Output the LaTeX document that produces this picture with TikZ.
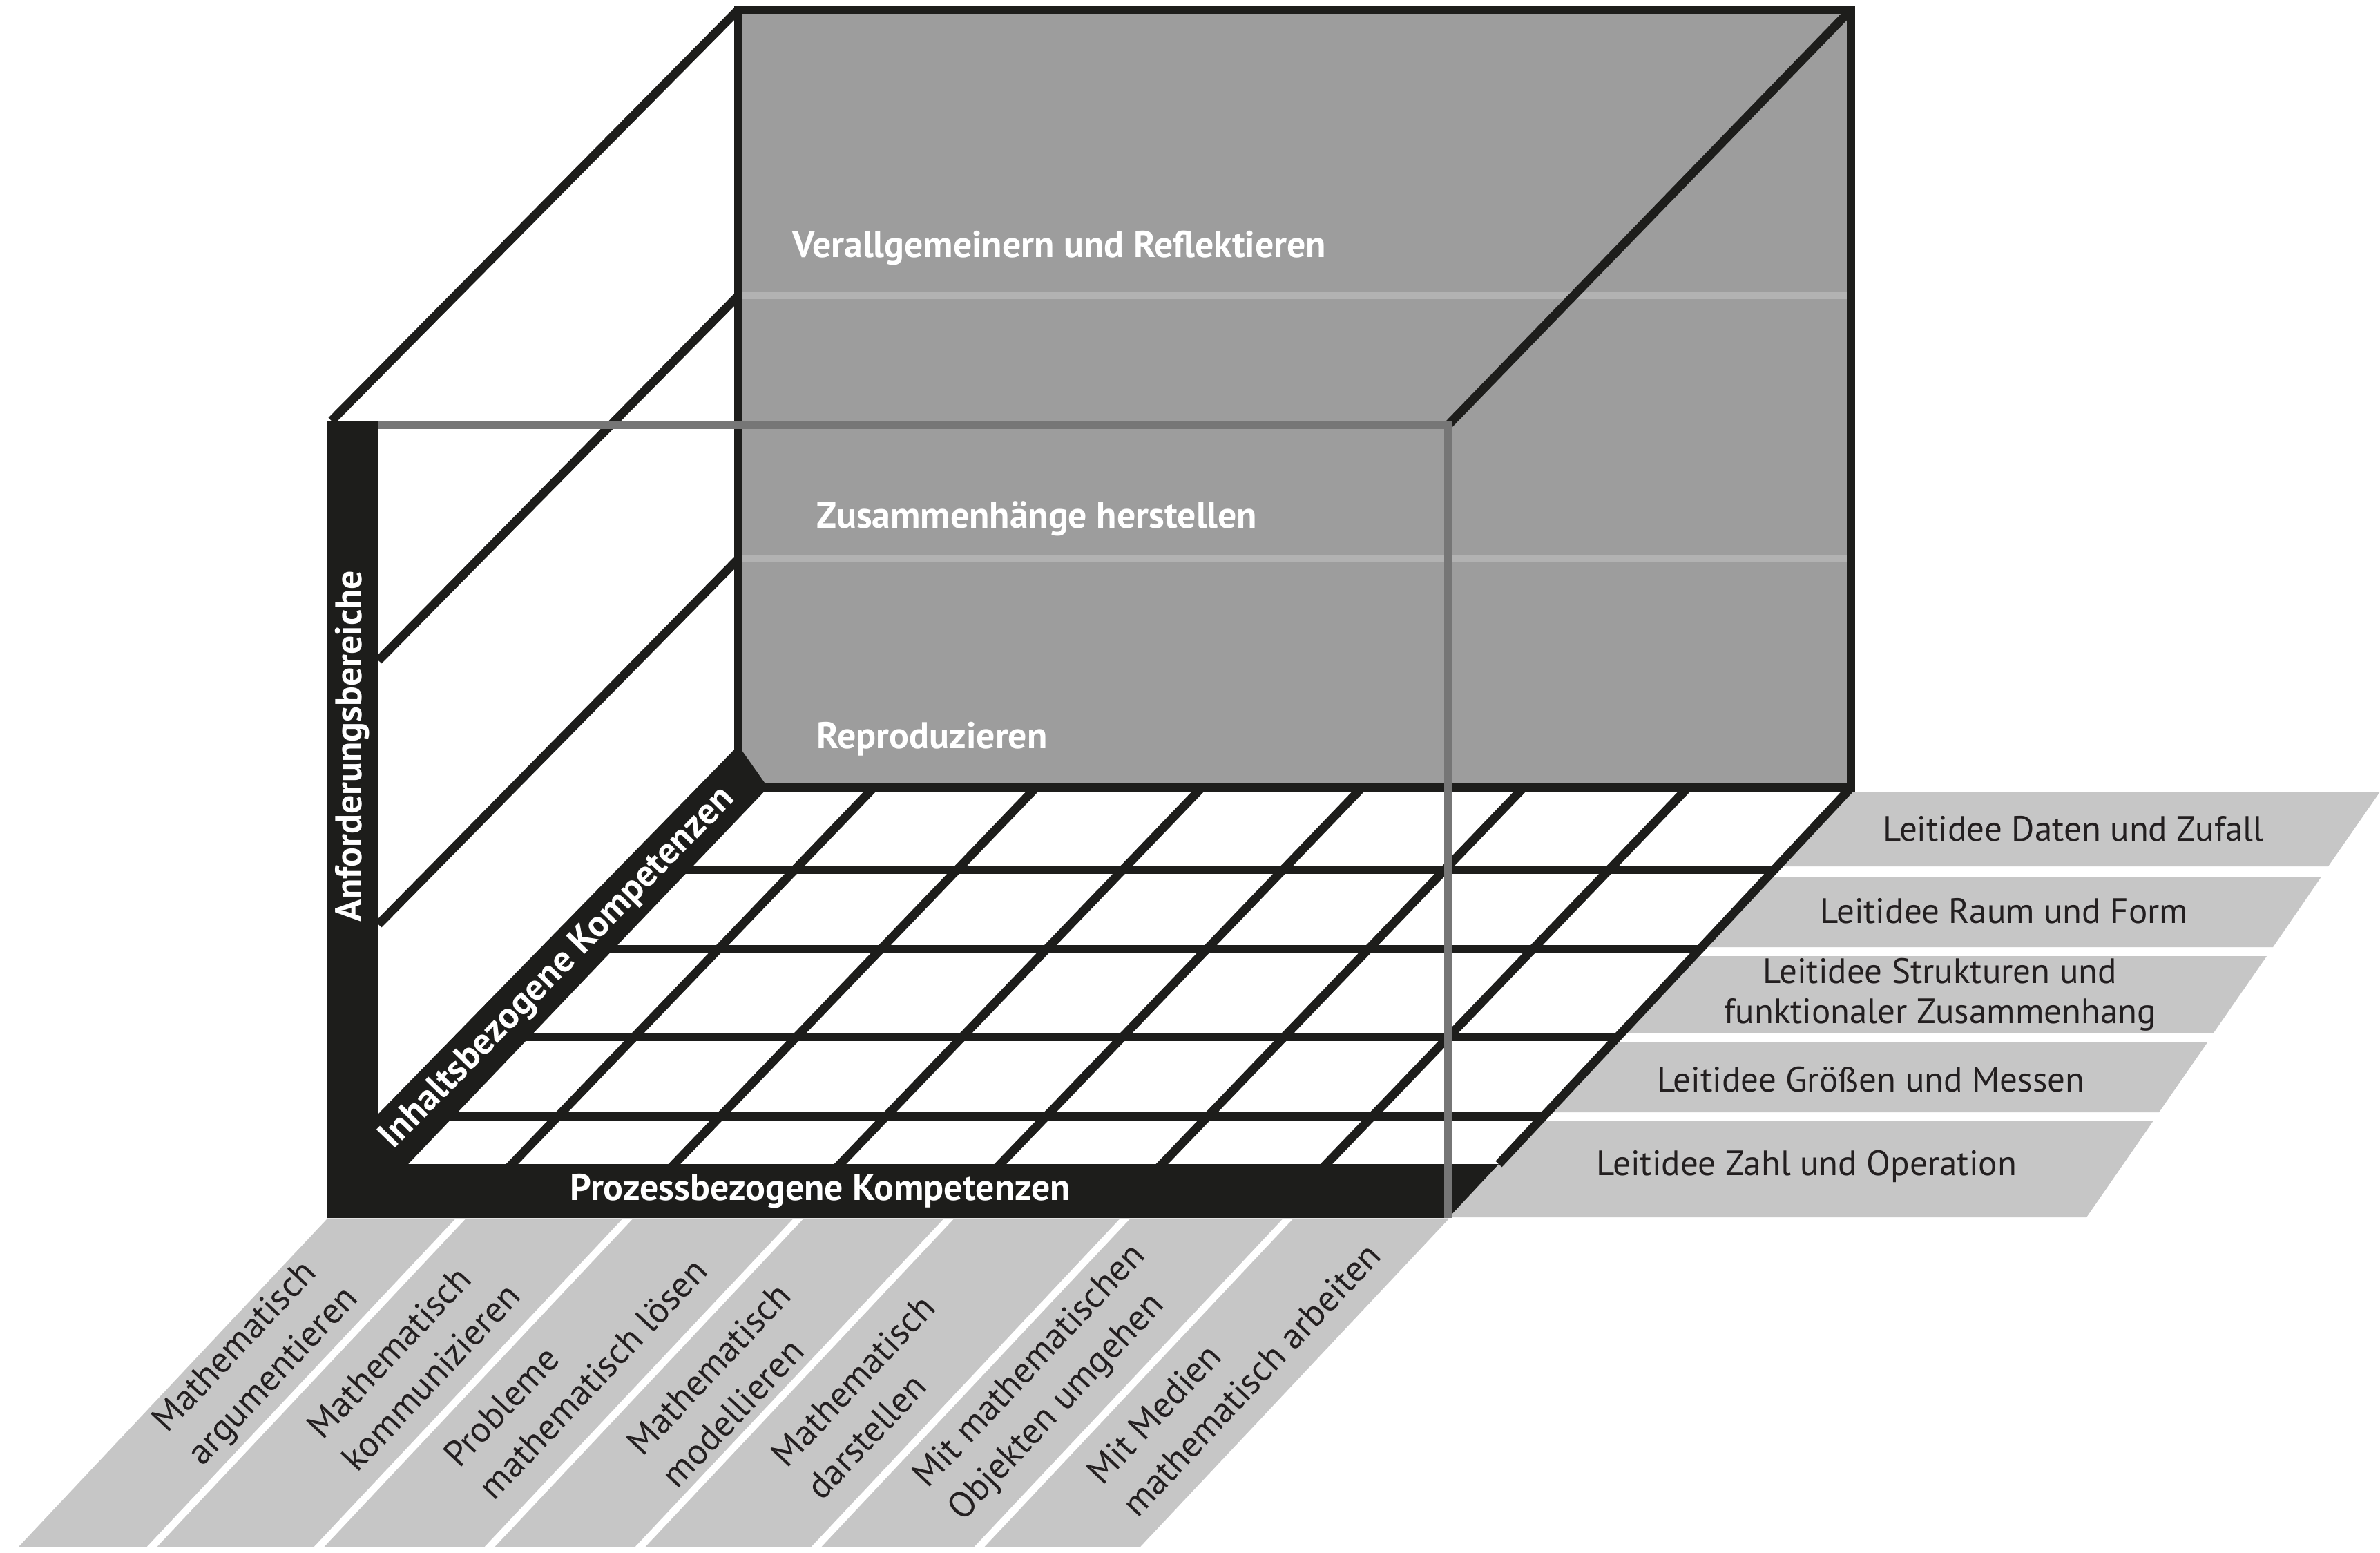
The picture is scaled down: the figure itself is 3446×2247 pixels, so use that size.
\documentclass[tikz,border=0pt]{standalone}
\usepackage{fontspec}
\setmainfont{PT Sans}
\definecolor{inkblack}{HTML}{1D1D1B}
\definecolor{wallgray}{HTML}{9D9D9D}
\definecolor{wallline}{HTML}{B2B2B2}
\definecolor{frontgray}{HTML}{767676}
\definecolor{labelgray}{HTML}{C6C6C6}
\definecolor{labeltext}{HTML}{231F20}
\begin{document}
\begin{tikzpicture}[x=0.01cm,y=-0.01cm,
  blk/.style={draw=inkblack,line width=3.6pt},
  wline/.style={draw=wallline,line width=3.1pt},
  fline/.style={draw=frontgray,line width=3.4pt},
  band/.style={fill=labelgray},
  whitelbl/.style={text=white,font=\bfseries\fontsize{15.3}{18}\selectfont,inner sep=0pt},
  darklbl/.style={text=labeltext,font=\fontsize{14.5}{16.5}\selectfont,inner sep=0pt,align=center},
  botlbl/.style={text=labeltext,font=\fontsize{15}{19.6}\selectfont,inner sep=0pt,align=left,rotate=46.8,anchor=west}]
\useasboundingbox (0,0) rectangle (3446,2247);
\fill[white] (0,0) rectangle (3446,2247);

% back wall
\fill[wallgray] (1069,14) rectangle (2680,1140);
\draw[wline] (1069,428) -- (2680,428);
\draw[wline] (1069,809) -- (2680,809);
\draw[blk,line join=miter] (1069,1140) -- (1069,14) -- (2680,14) -- (2680,1140) -- cycle;

% left wall
\draw[blk] (480,609) -- (1069,14);
\draw[blk] (548,956) -- (1069,428);
\draw[blk] (548,1338) -- (1069,809);

% right top edge
\draw[blk] (2680,14) -- (2097,615);

% right label bands
\fill[band] (2674,1146) -- (3446,1146) -- (3371,1254) -- (2573,1254) -- cycle;
\fill[band] (2559,1269) -- (3361,1269) -- (3291,1371) -- (2463,1371) -- cycle;
\fill[band] (2443,1384) -- (3282,1384) -- (3205,1495) -- (2339,1495) -- cycle;
\fill[band] (2326,1509) -- (3196,1509) -- (3126,1610) -- (2240,1610) -- cycle;
\fill[band] (2229,1622) -- (3118,1622) -- (3021,1762) -- (2098,1762) -- cycle;

% bottom label bands
\fill[band] (473,1765) -- (658.5,1765) -- (212.5,2239) -- (27,2239) -- cycle;
\fill[band] (673.5,1765) -- (900.5,1765) -- (454.5,2239) -- (227.5,2239) -- cycle;
\fill[band] (915.5,1765) -- (1147.5,1765) -- (701.5,2239) -- (469.5,2239) -- cycle;
\fill[band] (1162.5,1765) -- (1365.5,1765) -- (919.5,2239) -- (716.5,2239) -- cycle;
\fill[band] (1380.5,1765) -- (1620.5,1765) -- (1174.5,2239) -- (934.5,2239) -- cycle;
\fill[band] (1635.5,1765) -- (1856.5,1765) -- (1410.5,2239) -- (1189.5,2239) -- cycle;
\fill[band] (1871.5,1765) -- (2097,1765) -- (1651,2239) -- (1425.5,2239) -- cycle;

% floor grid
\draw[blk] (980,1259) -- (2569,1259);
\draw[blk] (870,1374) -- (2461,1374);
\draw[blk] (750,1501) -- (2342,1501);
\draw[blk] (640,1616) -- (2234,1616);
\foreach \xb in {1265,1500,1740,1972,2206,2444}
  \draw[blk] (\xb,1140) -- ({\xb-538},1700);
\draw[blk] (2680,1140) -- (2170,1685);

% black axis bands
\fill[inkblack] (473,609) rectangle (548,1763);
\fill[inkblack] (473,1685) -- (2170,1685) -- (2097,1763) -- (473,1763) -- cycle;
\fill[inkblack] (548,1612) -- (1069,1079) -- (1112,1140) -- (591,1685) -- (548,1685) -- cycle;

% front grey edges
\draw[fline] (548,615) -- (2097,615) -- (2097,1763);

% labels on the back wall
\node[whitelbl,anchor=west] (vr) at (1147,359) {Verallgemeinern und Reflektieren};
\node[whitelbl,anchor=west] (zh) at (1182,751) {Zusammenhänge herstellen};
\node[whitelbl,anchor=west] (rp) at (1182,1070) {Reproduzieren};

% axis labels
\node[whitelbl,rotate=90] (anf) at (510,1080) {Anforderungsbereiche};
\node[whitelbl,rotate=45.7] (inh) at (808,1402) {Inhaltsbezogene Kompetenzen};
\node[whitelbl] (proz) at (1188,1724) {Prozessbezogene Kompetenzen};

% Leitideen
\node[darklbl] (ld1) at (3002,1200) {Leitidee Daten und Zufall};
\node[darklbl] (ld2) at (2902,1319) {Leitidee Raum und Form};
\node[darklbl] (ld3) at (2809,1440) {Leitidee Strukturen und\\funktionaler Zusammenhang};
\node[darklbl] (ld4) at (2709,1563) {Leitidee Größen und Messen};
\node[darklbl] (ld5) at (2616,1688) {Leitidee Zahl und Operation};

% process competences
\node[botlbl] (pk1) at (258,2091) {Mathematisch\\argumentieren};
\node[botlbl] (pk2) at (479,2097) {Mathematisch\\kommunizieren};
\node[botlbl] (pk3) at (677,2138) {Probleme\\mathematisch lösen};
\node[botlbl] (pk4) at (942,2121) {Mathematisch\\modellieren};
\node[botlbl] (pk5) at (1151,2138) {Mathematisch\\darstellen};
\node[botlbl] (pk6) at (1359,2171) {Mit mathematischen\\Objekten umgehen};
\node[botlbl] (pk7) at (1608,2163) {Mit Medien\\mathematisch arbeiten};
\end{tikzpicture}
\end{document}
